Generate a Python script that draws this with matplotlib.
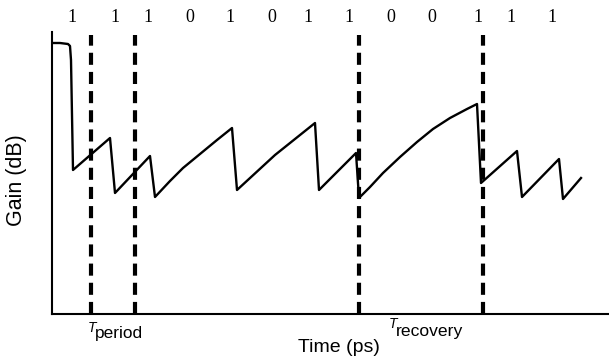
import numpy as np
import matplotlib
matplotlib.use('Agg')
import matplotlib.pyplot as plt

# gain trace of the amplifier under a bit pattern (arbitrary units)
time_ps = [1, 8, 16, 18, 19, 21, 58, 63, 98, 103, 118, 131, 148, 165, 180,
           185, 223, 263, 267, 304, 307, 318, 331, 348, 365, 381, 398, 415,
           425, 429, 465, 470, 507, 511, 529]
gain_db = [271, 271, 270, 268, 254, 144, 176, 121, 158, 117, 133, 146, 160,
           174, 186, 124, 159, 191, 124, 161, 116, 127, 141, 157, 172, 185,
           196, 205, 210, 131, 163, 117, 155, 115, 136]

# input bit sequence and where each bit is written
bits = ['1', '1', '1', '0', '1', '0', '1', '1', '0', '0', '1', '1', '1']
bit_times = [20, 63, 96, 138, 178, 220, 256, 297, 339, 380, 426, 459, 500]

# marker lines for the bit period and the recovery time
dash_times = [39, 83, 307, 431]
dash_top = 279

x_max = 557
y_max = 282

W, H = 609, 360
fig = plt.figure(figsize=(W / 100, H / 100), dpi=100)
ax = fig.add_axes([52 / W, 1 - 314 / H, 1 - 52 / W, (314 - 32) / H])

ax.plot(time_ps, gain_db, color='black', linewidth=1.7, solid_joinstyle='round')
ax.vlines(dash_times, 0, dash_top, colors='black', linewidth=3,
          linestyles=[(0, (2.9, 1.7))])

ax.set_xlim(0, x_max)
ax.set_ylim(0, y_max)
ax.set_xticks([])
ax.set_yticks([])
for side in ['top', 'right']:
    ax.spines[side].set_visible(False)
for side in ['left', 'bottom']:
    ax.spines[side].set_linewidth(1.5)
    ax.spines[side].set_color('black')

for b, t in zip(bits, bit_times):
    ax.text(t, y_max + 14, b, ha='center', va='center', fontsize=13,
            family='Liberation Serif', clip_on=False)

sans = 'Liberation Sans'
fig.text(339 / W, 1 - 347 / H, 'Time (ps)', ha='center', va='center',
         fontsize=14, family=sans)
fig.text(17 / W, 1 - 180 / H, 'Gain (dB)', ha='center', va='center',
         rotation=90, fontsize=15.5, family=sans)

# T_period and T_recovery labels under the axis
fig.text(88 / W, 1 - 321 / H, 'T', ha='left', va='top', fontsize=10,
         family=sans, style='italic')
fig.text(95 / W, 1 - 338 / H, 'period', ha='left', va='baseline',
         fontsize=12.4, family=sans)
fig.text(389 / W, 1 - 317 / H, 'T', ha='left', va='top', fontsize=10,
         family=sans, style='italic')
fig.text(396 / W, 1 - 336 / H, 'recovery', ha='left', va='baseline',
         fontsize=12.6, family=sans)

fig.savefig('out.png', dpi=100)
